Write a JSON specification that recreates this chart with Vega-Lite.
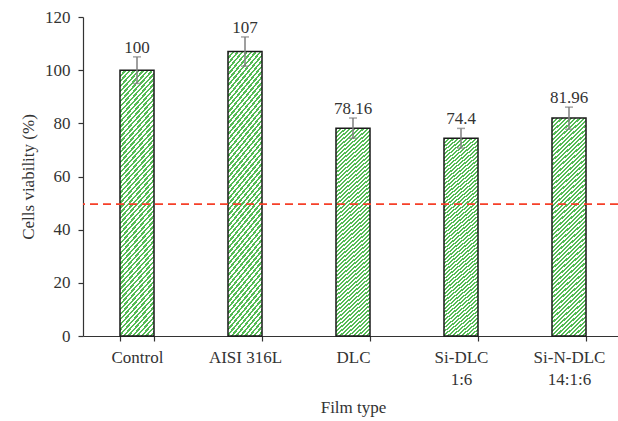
{
  "$schema": "https://vega.github.io/schema/vega-lite/v6.json",
  "width": 535,
  "height": 319,
  "autosize": {"type": "none"},
  "padding": {"left": 83, "top": 17, "right": 0, "bottom": 85},
  "background": "white",
  "config": {
    "font": "Liberation Serif",
    "view": {"stroke": null},
    "axis": {
      "domainColor": "#333",
      "tickColor": "#333",
      "domainWidth": 1.2,
      "tickWidth": 1.2,
      "tickSize": 5,
      "labelFont": "Liberation Serif",
      "labelFontSize": 17,
      "labelColor": "#333",
      "titleFont": "Liberation Serif",
      "titleFontSize": 17,
      "titleFontWeight": "normal",
      "titleColor": "#333",
      "grid": false
    }
  },
  "data": {
    "values": [
      {"film": "Control", "value": 100, "lower": 95, "upper": 105},
      {"film": "AISI 316L", "value": 107, "lower": 101.5, "upper": 112.5},
      {"film": "DLC", "value": 78.16, "lower": 74.4, "upper": 82},
      {"film": "Si-DLC\n1:6", "value": 74.4, "lower": 70.7, "upper": 78.1},
      {"film": "Si-N-DLC\n14:1:6", "value": 81.96, "lower": 77.8, "upper": 86.1}
    ]
  },
  "layer": [
    {
      "mark": {
        "type": "bar",
        "stroke": "#1a1a1a",
        "strokeWidth": 1.5,
        "fill": {
          "gradient": "linear",
          "x1": 0, "y1": 0, "x2": 0.162, "y2": 1.121,
          "stops": [
{"offset":0,"color":"#5b5"},{"offset":0.00833,"color":"#5b5"},{"offset":0.00833,"color":"#fff"},{"offset":0.01667,"color":"#fff"},
{"offset":0.01667,"color":"#5b5"},{"offset":0.025,"color":"#5b5"},{"offset":0.025,"color":"#fff"},{"offset":0.03333,"color":"#fff"},
{"offset":0.03333,"color":"#5b5"},{"offset":0.04167,"color":"#5b5"},{"offset":0.04167,"color":"#fff"},{"offset":0.05,"color":"#fff"},
{"offset":0.05,"color":"#5b5"},{"offset":0.05833,"color":"#5b5"},{"offset":0.05833,"color":"#fff"},{"offset":0.06667,"color":"#fff"},
{"offset":0.06667,"color":"#5b5"},{"offset":0.075,"color":"#5b5"},{"offset":0.075,"color":"#fff"},{"offset":0.08333,"color":"#fff"},
{"offset":0.08333,"color":"#5b5"},{"offset":0.09167,"color":"#5b5"},{"offset":0.09167,"color":"#fff"},{"offset":0.1,"color":"#fff"},
{"offset":0.1,"color":"#5b5"},{"offset":0.10833,"color":"#5b5"},{"offset":0.10833,"color":"#fff"},{"offset":0.11667,"color":"#fff"},
{"offset":0.11667,"color":"#5b5"},{"offset":0.125,"color":"#5b5"},{"offset":0.125,"color":"#fff"},{"offset":0.13333,"color":"#fff"},
{"offset":0.13333,"color":"#5b5"},{"offset":0.14167,"color":"#5b5"},{"offset":0.14167,"color":"#fff"},{"offset":0.15,"color":"#fff"},
{"offset":0.15,"color":"#5b5"},{"offset":0.15833,"color":"#5b5"},{"offset":0.15833,"color":"#fff"},{"offset":0.16667,"color":"#fff"},
{"offset":0.16667,"color":"#5b5"},{"offset":0.175,"color":"#5b5"},{"offset":0.175,"color":"#fff"},{"offset":0.18333,"color":"#fff"},
{"offset":0.18333,"color":"#5b5"},{"offset":0.19167,"color":"#5b5"},{"offset":0.19167,"color":"#fff"},{"offset":0.2,"color":"#fff"},
{"offset":0.2,"color":"#5b5"},{"offset":0.20833,"color":"#5b5"},{"offset":0.20833,"color":"#fff"},{"offset":0.21667,"color":"#fff"},
{"offset":0.21667,"color":"#5b5"},{"offset":0.225,"color":"#5b5"},{"offset":0.225,"color":"#fff"},{"offset":0.23333,"color":"#fff"},
{"offset":0.23333,"color":"#5b5"},{"offset":0.24167,"color":"#5b5"},{"offset":0.24167,"color":"#fff"},{"offset":0.25,"color":"#fff"},
{"offset":0.25,"color":"#5b5"},{"offset":0.25833,"color":"#5b5"},{"offset":0.25833,"color":"#fff"},{"offset":0.26667,"color":"#fff"},
{"offset":0.26667,"color":"#5b5"},{"offset":0.275,"color":"#5b5"},{"offset":0.275,"color":"#fff"},{"offset":0.28333,"color":"#fff"},
{"offset":0.28333,"color":"#5b5"},{"offset":0.29167,"color":"#5b5"},{"offset":0.29167,"color":"#fff"},{"offset":0.3,"color":"#fff"},
{"offset":0.3,"color":"#5b5"},{"offset":0.30833,"color":"#5b5"},{"offset":0.30833,"color":"#fff"},{"offset":0.31667,"color":"#fff"},
{"offset":0.31667,"color":"#5b5"},{"offset":0.325,"color":"#5b5"},{"offset":0.325,"color":"#fff"},{"offset":0.33333,"color":"#fff"},
{"offset":0.33333,"color":"#5b5"},{"offset":0.34167,"color":"#5b5"},{"offset":0.34167,"color":"#fff"},{"offset":0.35,"color":"#fff"},
{"offset":0.35,"color":"#5b5"},{"offset":0.35833,"color":"#5b5"},{"offset":0.35833,"color":"#fff"},{"offset":0.36667,"color":"#fff"},
{"offset":0.36667,"color":"#5b5"},{"offset":0.375,"color":"#5b5"},{"offset":0.375,"color":"#fff"},{"offset":0.38333,"color":"#fff"},
{"offset":0.38333,"color":"#5b5"},{"offset":0.39167,"color":"#5b5"},{"offset":0.39167,"color":"#fff"},{"offset":0.4,"color":"#fff"},
{"offset":0.4,"color":"#5b5"},{"offset":0.40833,"color":"#5b5"},{"offset":0.40833,"color":"#fff"},{"offset":0.41667,"color":"#fff"},
{"offset":0.41667,"color":"#5b5"},{"offset":0.425,"color":"#5b5"},{"offset":0.425,"color":"#fff"},{"offset":0.43333,"color":"#fff"},
{"offset":0.43333,"color":"#5b5"},{"offset":0.44167,"color":"#5b5"},{"offset":0.44167,"color":"#fff"},{"offset":0.45,"color":"#fff"},
{"offset":0.45,"color":"#5b5"},{"offset":0.45833,"color":"#5b5"},{"offset":0.45833,"color":"#fff"},{"offset":0.46667,"color":"#fff"},
{"offset":0.46667,"color":"#5b5"},{"offset":0.475,"color":"#5b5"},{"offset":0.475,"color":"#fff"},{"offset":0.48333,"color":"#fff"},
{"offset":0.48333,"color":"#5b5"},{"offset":0.49167,"color":"#5b5"},{"offset":0.49167,"color":"#fff"},{"offset":0.5,"color":"#fff"},
{"offset":0.5,"color":"#5b5"},{"offset":0.50833,"color":"#5b5"},{"offset":0.50833,"color":"#fff"},{"offset":0.51667,"color":"#fff"},
{"offset":0.51667,"color":"#5b5"},{"offset":0.525,"color":"#5b5"},{"offset":0.525,"color":"#fff"},{"offset":0.53333,"color":"#fff"},
{"offset":0.53333,"color":"#5b5"},{"offset":0.54167,"color":"#5b5"},{"offset":0.54167,"color":"#fff"},{"offset":0.55,"color":"#fff"},
{"offset":0.55,"color":"#5b5"},{"offset":0.55833,"color":"#5b5"},{"offset":0.55833,"color":"#fff"},{"offset":0.56667,"color":"#fff"},
{"offset":0.56667,"color":"#5b5"},{"offset":0.575,"color":"#5b5"},{"offset":0.575,"color":"#fff"},{"offset":0.58333,"color":"#fff"},
{"offset":0.58333,"color":"#5b5"},{"offset":0.59167,"color":"#5b5"},{"offset":0.59167,"color":"#fff"},{"offset":0.6,"color":"#fff"},
{"offset":0.6,"color":"#5b5"},{"offset":0.60833,"color":"#5b5"},{"offset":0.60833,"color":"#fff"},{"offset":0.61667,"color":"#fff"},
{"offset":0.61667,"color":"#5b5"},{"offset":0.625,"color":"#5b5"},{"offset":0.625,"color":"#fff"},{"offset":0.63333,"color":"#fff"},
{"offset":0.63333,"color":"#5b5"},{"offset":0.64167,"color":"#5b5"},{"offset":0.64167,"color":"#fff"},{"offset":0.65,"color":"#fff"},
{"offset":0.65,"color":"#5b5"},{"offset":0.65833,"color":"#5b5"},{"offset":0.65833,"color":"#fff"},{"offset":0.66667,"color":"#fff"},
{"offset":0.66667,"color":"#5b5"},{"offset":0.675,"color":"#5b5"},{"offset":0.675,"color":"#fff"},{"offset":0.68333,"color":"#fff"},
{"offset":0.68333,"color":"#5b5"},{"offset":0.69167,"color":"#5b5"},{"offset":0.69167,"color":"#fff"},{"offset":0.7,"color":"#fff"},
{"offset":0.7,"color":"#5b5"},{"offset":0.70833,"color":"#5b5"},{"offset":0.70833,"color":"#fff"},{"offset":0.71667,"color":"#fff"},
{"offset":0.71667,"color":"#5b5"},{"offset":0.725,"color":"#5b5"},{"offset":0.725,"color":"#fff"},{"offset":0.73333,"color":"#fff"},
{"offset":0.73333,"color":"#5b5"},{"offset":0.74167,"color":"#5b5"},{"offset":0.74167,"color":"#fff"},{"offset":0.75,"color":"#fff"},
{"offset":0.75,"color":"#5b5"},{"offset":0.75833,"color":"#5b5"},{"offset":0.75833,"color":"#fff"},{"offset":0.76667,"color":"#fff"},
{"offset":0.76667,"color":"#5b5"},{"offset":0.775,"color":"#5b5"},{"offset":0.775,"color":"#fff"},{"offset":0.78333,"color":"#fff"},
{"offset":0.78333,"color":"#5b5"},{"offset":0.79167,"color":"#5b5"},{"offset":0.79167,"color":"#fff"},{"offset":0.8,"color":"#fff"},
{"offset":0.8,"color":"#5b5"},{"offset":0.80833,"color":"#5b5"},{"offset":0.80833,"color":"#fff"},{"offset":0.81667,"color":"#fff"},
{"offset":0.81667,"color":"#5b5"},{"offset":0.825,"color":"#5b5"},{"offset":0.825,"color":"#fff"},{"offset":0.83333,"color":"#fff"},
{"offset":0.83333,"color":"#5b5"},{"offset":0.84167,"color":"#5b5"},{"offset":0.84167,"color":"#fff"},{"offset":0.85,"color":"#fff"},
{"offset":0.85,"color":"#5b5"},{"offset":0.85833,"color":"#5b5"},{"offset":0.85833,"color":"#fff"},{"offset":0.86667,"color":"#fff"},
{"offset":0.86667,"color":"#5b5"},{"offset":0.875,"color":"#5b5"},{"offset":0.875,"color":"#fff"},{"offset":0.88333,"color":"#fff"},
{"offset":0.88333,"color":"#5b5"},{"offset":0.89167,"color":"#5b5"},{"offset":0.89167,"color":"#fff"},{"offset":0.9,"color":"#fff"},
{"offset":0.9,"color":"#5b5"},{"offset":0.90833,"color":"#5b5"},{"offset":0.90833,"color":"#fff"},{"offset":0.91667,"color":"#fff"},
{"offset":0.91667,"color":"#5b5"},{"offset":0.925,"color":"#5b5"},{"offset":0.925,"color":"#fff"},{"offset":0.93333,"color":"#fff"},
{"offset":0.93333,"color":"#5b5"},{"offset":0.94167,"color":"#5b5"},{"offset":0.94167,"color":"#fff"},{"offset":0.95,"color":"#fff"},
{"offset":0.95,"color":"#5b5"},{"offset":0.95833,"color":"#5b5"},{"offset":0.95833,"color":"#fff"},{"offset":0.96667,"color":"#fff"},
{"offset":0.96667,"color":"#5b5"},{"offset":0.975,"color":"#5b5"},{"offset":0.975,"color":"#fff"},{"offset":0.98333,"color":"#fff"},
{"offset":0.98333,"color":"#5b5"},{"offset":0.99167,"color":"#5b5"},{"offset":0.99167,"color":"#fff"},{"offset":1,"color":"#fff"}
          ]
        }
      },
      "encoding": {
        "x": {
          "field": "film",
          "type": "nominal",
          "sort": null,
          "scale": {"range": [0, 540], "paddingInner": 0.685, "paddingOuter": 0.3425},
          "axis": {
            "title": "Film type",
            "labelAngle": 0,
            "tickBand": "extent",
            "labelPadding": 8,
            "labelLineHeight": 22,
            "labelExpr": "split(datum.label, '\\n')",
            "titlePadding": 12
          }
        },
        "y": {
          "field": "value",
          "type": "quantitative",
          "scale": {"domain": [0, 120], "nice": false},
          "axis": {
            "title": "Cells viability (%)",
            "values": [0, 20, 40, 60, 80, 100, 120],
            "labelPadding": 8,
            "titlePadding": 7
          }
        }
      }
    },
    {
      "mark": {"type": "rule", "color": "#7f7f7f", "strokeWidth": 1.5},
      "encoding": {
        "x": {"field": "film", "type": "nominal", "sort": null},
        "y": {"field": "lower", "type": "quantitative"},
        "y2": {"field": "upper"}
      }
    },
    {
      "mark": {"type": "tick", "color": "#7f7f7f", "size": 8, "thickness": 1.5},
      "encoding": {
        "x": {"field": "film", "type": "nominal", "sort": null},
        "y": {"field": "lower", "type": "quantitative"}
      }
    },
    {
      "mark": {"type": "tick", "color": "#7f7f7f", "size": 8, "thickness": 1.5},
      "encoding": {
        "x": {"field": "film", "type": "nominal", "sort": null},
        "y": {"field": "upper", "type": "quantitative"}
      }
    },
    {
      "mark": {"type": "text", "fontSize": 17, "color": "#333", "baseline": "alphabetic", "dy": -4},
      "encoding": {
        "x": {"field": "film", "type": "nominal", "sort": null},
        "y": {"field": "upper", "type": "quantitative"},
        "text": {"field": "value", "type": "nominal"}
      }
    },
    {
      "mark": {"type": "rule", "color": "#f5402a", "strokeWidth": 1.2, "strokeDash": [8, 5]},
      "encoding": {"y": {"datum": 49.5}}
    }
  ]
}
